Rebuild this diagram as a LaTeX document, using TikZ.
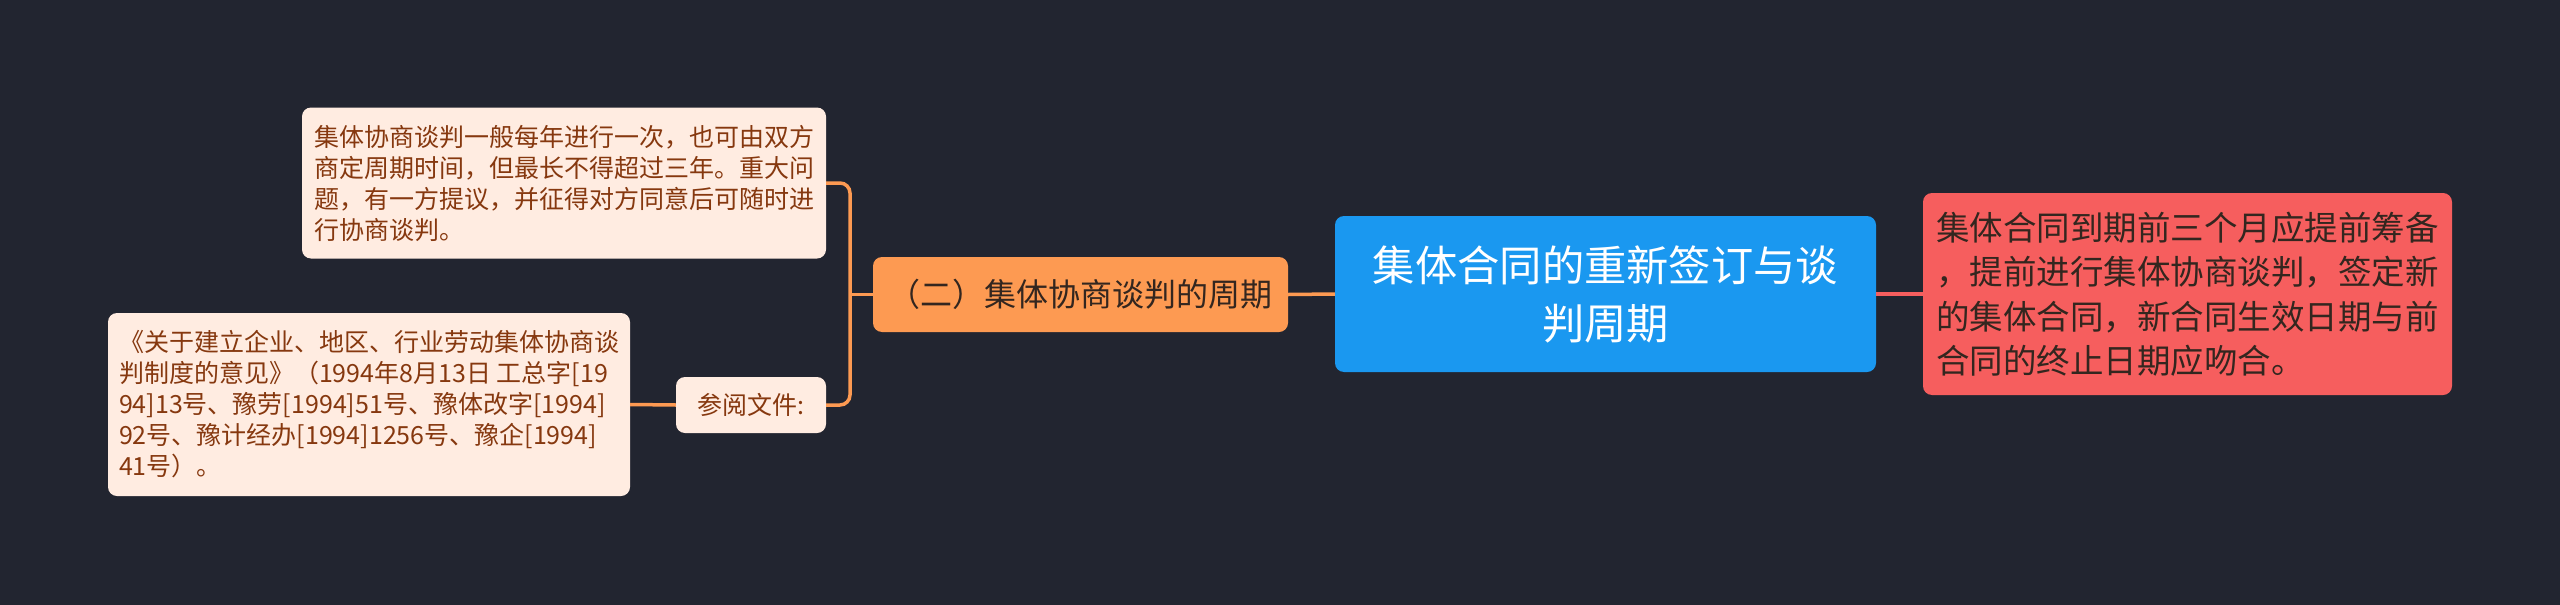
\documentclass[tikz,border=0pt]{standalone}
\usepackage{fontspec}
\newfontfamily\cjk{Noto Sans CJK SC}
\definecolor{bgc}{HTML}{222530}
\definecolor{peach}{HTML}{FFECE1}
\definecolor{brownt}{HTML}{86380F}
\definecolor{orangef}{HTML}{FD9A52}
\definecolor{bluef}{HTML}{1A98F0}
\definecolor{redf}{HTML}{F65E5E}
\definecolor{darkt}{HTML}{33261F}
\tikzset{
  x=1pt, y=-1pt,
  box/.style={rounded corners=9pt, inner sep=0pt, align=left, anchor=center},
  leafbox/.style={box, fill=peach, text=brownt, font=\cjk\fontsize{25}{31}\selectfont},
  oline/.style={draw=orangef, line width=3.5pt},
  rline/.style={draw=redf, line width=3.5pt},
}
\begin{document}
\begin{tikzpicture}
\fill[bgc] (0,0) rectangle (2560,605);
\useasboundingbox (0,0) rectangle (2560,605);

\node[box, fill=bluef, text=white, align=center, minimum width=541pt, minimum height=156pt,
  font=\cjk\fontsize{42.3}{58}\selectfont] (root) at (1605.5,294) {集体合同的重新签订与谈\\判周期};

\node[box, fill=redf, text=darkt, minimum width=529pt, minimum height=202pt,
  font=\cjk\fontsize{33.5}{44.5}\selectfont] (red) at (2187.5,294)
  {集体合同到期前三个月应提前筹备\\，提前进行集体协商谈判，签定新\\的集体合同，新合同生效日期与前\\合同的终止日期应吻合。};

\node[box, fill=orangef, text=darkt, minimum width=415pt, minimum height=75pt,
  font=\cjk\fontsize{32}{36}\selectfont] (orange) at (1080.5,294.5) {（二）集体协商谈判的周期};

\node[leafbox, minimum width=524pt, minimum height=151pt] (A) at (564,183)
  {集体协商谈判一般每年进行一次，也可由双方\\商定周期时间，但最长不得超过三年。重大问\\题，有一方提议，并征得对方同意后可随时进\\行协商谈判。};

\node[leafbox, minimum width=150pt, minimum height=56pt] (ref) at (751,405) {参阅文件:};

\node[leafbox, minimum width=522pt, minimum height=183pt] (B) at (369,404.5)
  {《关于建立企业、地区、行业劳动集体协商谈\\判制度的意见》（1994年8月13日 工总字[19\\94]13号、豫劳[1994]51号、豫体改字[1994]\\92号、豫计经办[1994]1256号、豫企[1994]\\41号）。};

\coordinate (br) at (850,294.5);
\draw[oline] (root.west) -- (orange.east);
\draw[rline] (root.east) -- (red.west);
\draw[oline] (orange.west) -- (br);
\draw[oline, rounded corners=10pt] (A.east) -| (br) |- (ref.east);
\draw[oline] (ref.west) -- (B.east);
\end{tikzpicture}
\end{document}
